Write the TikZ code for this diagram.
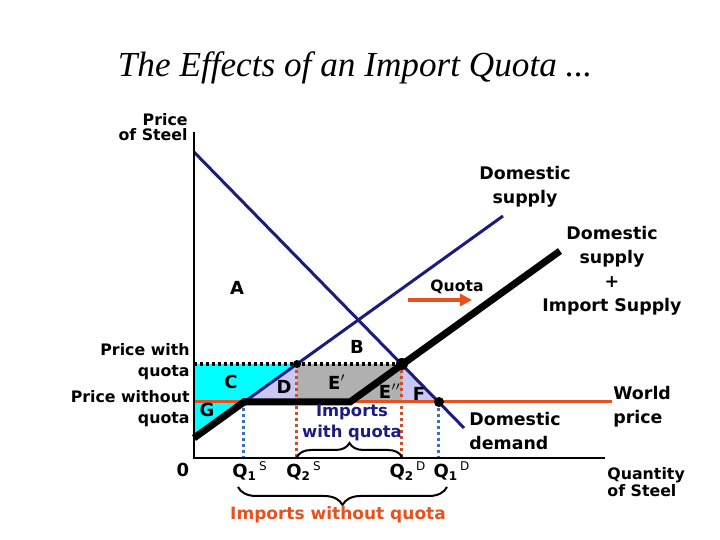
\documentclass[tikz,border=0pt]{standalone}
\usepackage{fontspec}
\setmainfont{DejaVu Sans}
\newfontfamily\titlefont{Liberation Serif}
\usepackage{xcolor}
\usetikzlibrary{arrows.meta,decorations.pathreplacing}
\definecolor{curveblue}{HTML}{1C1C80}
\definecolor{worldred}{HTML}{E8501E}
\definecolor{quotabrown}{HTML}{C4502C}
\definecolor{dotblue}{HTML}{3A70C0}
\definecolor{areacyan}{HTML}{00FFFF}
\definecolor{arealav}{HTML}{C8C8F2}
\definecolor{areagray}{HTML}{B0B0B0}
\tikzset{
  lbl/.style={font=\bfseries\fontsize{8.7}{12}\selectfont, inner sep=0pt, align=center},
  axlbl/.style={font=\bfseries\fontsize{7.9}{7.6}\selectfont, inner sep=0pt},
  pricelbl/.style={font=\bfseries\fontsize{7.9}{10.5}\selectfont, inner sep=0pt, align=right, anchor=east},
  arealbl/.style={font=\bfseries\fontsize{9}{11}\selectfont, inner sep=0pt},
  qlbl/.style={font=\bfseries\fontsize{9}{11}\selectfont, inner sep=0pt},
  dropline/.style={line width=1.5pt, dash pattern=on 1.5pt off 1.5pt},
  dot/.style={circle, fill=black, inner sep=0pt, minimum size=#1}
}
\begin{document}
\begin{tikzpicture}[x=0.5pt,y=-0.5pt]
\useasboundingbox (0,0) rectangle (720,540);
% key points
\coordinate (O) at (194,458);
\coordinate (ytop) at (194,132);
\coordinate (xend) at (605,458);
\coordinate (dtop) at (194,152);
\coordinate (dbot) at (464,428);
\coordinate (sbot) at (194,438);
\coordinate (stop) at (503,216);
\coordinate (pq) at (194,364);
\coordinate (pw) at (194,402);
\coordinate (q1s) at (244,402);
\coordinate (q2s) at (297,364);
\coordinate (q2d) at (402,364);
\coordinate (q1d) at (439,402);
\coordinate (kink) at (350,402);
\coordinate (tsend) at (560,251);
\coordinate (wpend) at (612,402);

% surplus areas
\fill[areacyan] (pq) -- (q2s) -- (sbot) -- cycle;
\fill[arealav] (q1s) -- (q2s) -- (q2s |- pw) -- cycle;
\fill[areagray] (q2s) rectangle (q2d |- pw);
\fill[arealav] (q2d) -- (q1d) -- (q2d |- pw) -- cycle;

\draw[line width=1.6pt, dash pattern=on 1.6pt off 1.4pt] (pq) -- (q2d);
\draw[dropline, dotblue] (q1s) -- (q1s |- O);
\draw[dropline, quotabrown] (q2s) -- (q2s |- O);
\draw[dropline, quotabrown] (q2d) -- (q2d |- O);
\draw[dropline, dotblue] (q1d) -- (q1d |- O);

\draw[worldred, line width=1.5pt] (pw) -- (wpend);
\draw[curveblue, line width=1.5pt] (dtop) -- (dbot);
\draw[curveblue, line width=1.5pt] (sbot) -- (stop);
\draw[line width=3.5pt] (sbot) -- (q1s) -- (kink) -- (tsend);
\draw[line width=1.25pt] (ytop) -- (O) -- (xend);

\node[dot=4pt] (e1) at (q1s) {};
\node[dot=4pt] (e2) at (q2s) {};
\node[dot=6pt] (e3) at (q2d) {};
\node[dot=5pt] (e4) at (q1d) {};

\node[font=\titlefont\itshape\fontsize{17.6}{19}\selectfont] (title) at (355,68) {The Effects of an Import Quota ...};
\node[axlbl, align=right, anchor=east] (pricestl) at (188,127) {Price\\of Steel};
\node[axlbl, align=left, anchor=west] (qtystl) at (607,482) {Quantity\\of Steel};
\node[lbl] (dsup) at (525,187) {Domestic\\supply};
\node[lbl] (tsup) at (612,271) {Domestic\\supply\\+\\Import Supply};
\node[lbl, align=left, anchor=west] (ddem) at (469,431) {Domestic\\demand};
\node[lbl, align=left, anchor=west] (wp) at (613,407) {World\\price};
\node[pricelbl] (pwq) at (190,362) {Price with\\quota};
\node[pricelbl] (pwoq) at (190,409) {Price without\\quota};

\node[arealbl] (A) at (237,288) {A};
\node[arealbl] (B) at (357,347) {B};
\node[arealbl] (C) at (231,382) {C};
\node[arealbl] (G) at (207,410) {G};
\node[arealbl] (D) at (284,387) {D};
\node[arealbl] (E1) at (337,382) {E$'$};
\node[arealbl] (E2) at (390,391) {E$''$};
\node[arealbl] (F) at (419,394) {F};

\node[font=\bfseries\fontsize{7.8}{10}\selectfont, inner sep=0pt] (quota) at (457,287) {Quota};
\draw[worldred, line width=2pt, -{Triangle[length=6pt,width=6pt]}] (408,300) -- (472,300);

\node[lbl, text=curveblue, font=\bfseries\fontsize{8.2}{10.5}\selectfont] (impq) at (352,423) {Imports\\with quota};
\draw[line width=1pt, decorate, decoration={brace, amplitude=7pt}] (q2s |- 0,457) -- (q2d |- 0,457);

\node[qlbl] (zero) at (183,470) {0};
\node[qlbl] (Q1S) at (250,471) {Q\textsubscript{1}\textsuperscript{\mdseries\,S}};
\node[qlbl] (Q2S) at (304,471) {Q\textsubscript{2}\textsuperscript{\mdseries\,S}};
\node[qlbl] (Q2D) at (408,471) {Q\textsubscript{2}\textsuperscript{\mdseries\,D}};
\node[qlbl] (Q1D) at (452,471) {Q\textsubscript{1}\textsuperscript{\mdseries\,D}};

\draw[line width=1pt, decorate, decoration={brace, amplitude=9pt}] (447,487) -- (238,487);
\node[lbl, text=worldred, font=\bfseries\fontsize{8.5}{11}\selectfont] (impnq) at (338,515) {Imports without quota};
\end{tikzpicture}
\end{document}
